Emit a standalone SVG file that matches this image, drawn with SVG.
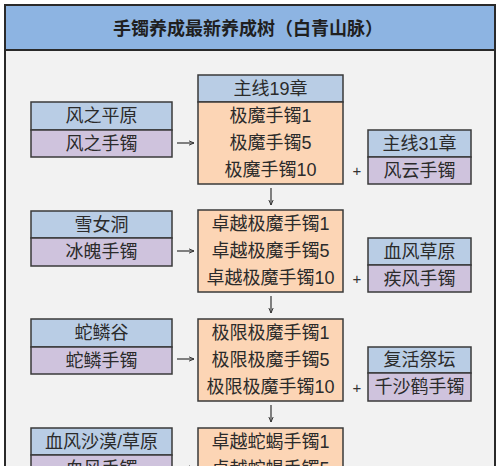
<svg xmlns="http://www.w3.org/2000/svg" width="500" height="466" viewBox="0 0 500 466">
<defs>
<style>
.t{font-family:"Liberation Sans","Noto Sans CJK SC",sans-serif;font-size:18px;fill:#2b2b2b;text-anchor:middle;dominant-baseline:central}
.title{font-family:"Liberation Sans","Noto Sans CJK SC",sans-serif;font-size:18px;font-weight:bold;fill:#1f1f1f;text-anchor:middle;dominant-baseline:central}
.b{fill:#B9CDE5;stroke:#3a3a3a;stroke-width:1.5}
.p{fill:#CFC3DD;stroke:#3a3a3a;stroke-width:1.5}
.o{fill:#FCD5B5;stroke:#3a3a3a;stroke-width:1.5}
.c{stroke:#333;stroke-width:1.2;fill:none;marker-end:url(#ah)}
.plus{font-family:"Liberation Sans",sans-serif;font-size:15px;fill:#333;text-anchor:middle;dominant-baseline:central}
</style>
<marker id="ah" viewBox="0 0 8 8" refX="7" refY="4" markerWidth="6" markerHeight="6" orient="auto" markerUnits="userSpaceOnUse">
<path d="M0,1 L7,4 L0,7" fill="none" stroke="#333" stroke-width="1.3"/>
</marker>
</defs>
<rect x="0" y="0" width="500" height="466" fill="#ffffff"/>
<rect x="5" y="5" width="490" height="470" fill="#F2F2F2" stroke="#2a2a2a" stroke-width="2"/>
<g id="title">
<rect x="5" y="5" width="490" height="45" fill="#8DB4E2" stroke="#2a2a2a" stroke-width="2"/>
<text class="title" x="248" y="29">手镯养成最新养成树（白青山脉）</text>
</g>

<g id="left1">
<rect class="b" x="31" y="102" width="141" height="28"/>
<rect class="p" x="31" y="130" width="141" height="27"/>
<text class="t" x="101.5" y="116">风之平原</text>
<text class="t" x="101.5" y="143.5">风之手镯</text>
</g>
<g id="center1">
<rect class="b" x="198" y="75" width="145" height="27"/>
<rect class="o" x="198" y="102" width="145" height="82"/>
<text class="t" x="270.5" y="88.5">主线19章</text>
<text class="t" x="270.5" y="115.7">极魔手镯1</text>
<text class="t" x="270.5" y="143">极魔手镯5</text>
<text class="t" x="270.5" y="170.3">极魔手镯10</text>
</g>
<g id="right1">
<rect class="b" x="368" y="130" width="103" height="27"/>
<rect class="p" x="368" y="157" width="103" height="27"/>
<text class="t" x="419.5" y="143.5">主线31章</text>
<text class="t" x="419.5" y="170.5">风云手镯</text>
</g>

<g id="left2">
<rect class="b" x="31" y="211" width="141" height="27"/>
<rect class="p" x="31" y="238" width="141" height="28"/>
<text class="t" x="101.5" y="224.5">雪女洞</text>
<text class="t" x="101.5" y="252">冰魄手镯</text>
</g>
<g id="center2">
<rect class="o" x="198" y="210" width="145" height="82"/>
<text class="t" x="270.5" y="223.7">卓越极魔手镯1</text>
<text class="t" x="270.5" y="251">卓越极魔手镯5</text>
<text class="t" x="270.5" y="278.3">卓越极魔手镯10</text>
</g>
<g id="right2">
<rect class="b" x="368" y="238" width="103" height="27"/>
<rect class="p" x="368" y="265" width="103" height="27"/>
<text class="t" x="419.5" y="251.5">血风草原</text>
<text class="t" x="419.5" y="278.5">疾风手镯</text>
</g>

<g id="left3">
<rect class="b" x="31" y="319" width="141" height="28"/>
<rect class="p" x="31" y="347" width="141" height="27"/>
<text class="t" x="101.5" y="333">蛇鳞谷</text>
<text class="t" x="101.5" y="360.5">蛇鳞手镯</text>
</g>
<g id="center3">
<rect class="o" x="198" y="319" width="145" height="82"/>
<text class="t" x="270.5" y="332.7">极限极魔手镯1</text>
<text class="t" x="270.5" y="360">极限极魔手镯5</text>
<text class="t" x="270.5" y="387.3">极限极魔手镯10</text>
</g>
<g id="right3">
<rect class="b" x="368" y="347" width="103" height="26"/>
<rect class="p" x="368" y="373" width="103" height="28"/>
<text class="t" x="419.5" y="360">复活祭坛</text>
<text class="t" x="419.5" y="387">千沙鹤手镯</text>
</g>

<g id="left4">
<rect class="b" x="31" y="428" width="141" height="27"/>
<rect class="p" x="31" y="455" width="141" height="27"/>
<text class="t" x="101.5" y="441.5">血风沙漠/草原</text>
<text class="t" x="101.5" y="468.5">血风手镯</text>
</g>
<g id="center4">
<rect class="o" x="198" y="428" width="145" height="82"/>
<text class="t" x="270.5" y="441.7">卓越蛇蝎手镯1</text>
<text class="t" x="270.5" y="469">卓越蛇蝎手镯5</text>
</g>

<g id="connectors">
<path class="c" d="M177,143 H194"/>
<path class="c" d="M177,251 H194"/>
<path class="c" d="M177,359 H194"/>
<path class="c" d="M177,468 H194"/>
<path class="c" d="M271,188 V205"/>
<path class="c" d="M271,296 V313"/>
<path class="c" d="M271,405 V422"/>
<text class="plus" x="357" y="170">+</text>
<text class="plus" x="357" y="278">+</text>
<text class="plus" x="357" y="387">+</text>
</g>
</svg>
